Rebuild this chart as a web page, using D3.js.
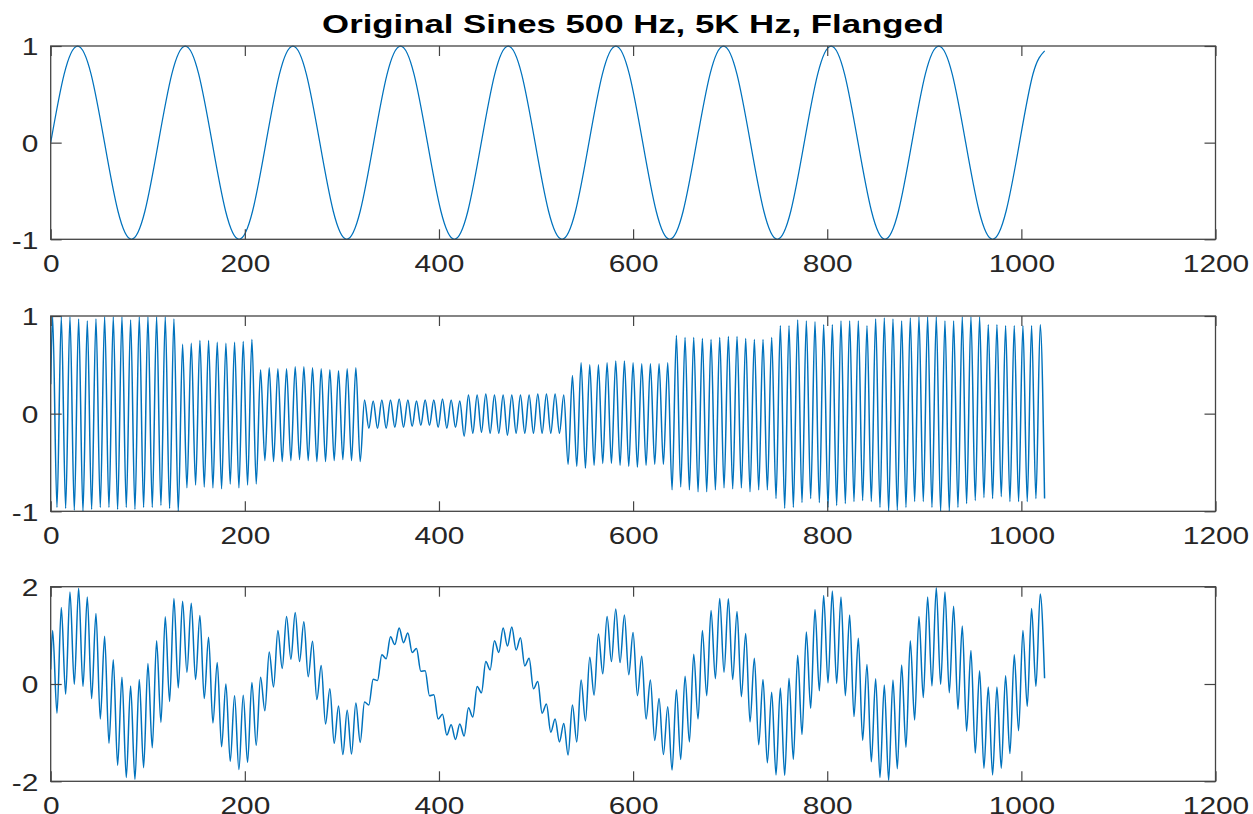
<!DOCTYPE html>
<html><head><meta charset="utf-8">
<script src="https://cdn.jsdelivr.net/npm/d3@7/dist/d3.min.js"></script>
<style>body{margin:0;background:#fff}svg{display:block}</style>
</head><body>
<svg id="c" width="1253" height="814"></svg>
<script>
// ---------- data ----------
const titleText = "Original Sines 500 Hz, 5K Hz, Flanged";
const xTicks = [0, 200, 400, 600, 800, 1000, 1200];
const yTicksSine = [-1, 0, 1];
const yTicksFlanged = [-1, 0, 1];
const yTicksMix = [-2, 0, 2];

// 500 Hz sine: value every 1/8 period (13.86 samples), plus last sample
const sineStep = 13.8625;
const sineValues = [0,0.71,1,0.71,0,-0.71,-1,-0.71, 0,0.71,1,0.71,0,-0.71,-1,-0.71,
  0,0.71,1,0.71,0,-0.71,-1,-0.71, 0,0.71,1,0.71,0,-0.71,-1,-0.71,
  0,0.71,1,0.71,0,-0.71,-1,-0.71, 0,0.71,1,0.71,0,-0.71,-1,-0.71,
  0,0.71,1,0.71,0,-0.71,-1,-0.71, 0,0.71,1,0.71,0,-0.71,-1,-0.71,
  0,0.71,1,0.71,0,-0.71,-1,-0.71, 0,0.71];
const sineLast = [1024, 0.95];

// high-frequency cycles: first top at sample 2, one cycle every 8.925 samples
const hfFirstTop = 2;
const hfCycle = 8.925;

// panel 2: per-cycle maxima / minima
const flangedFirst = 0.3;
const flangedTops = [0.99,0.99,0.99,0.97,0.95,0.97,0.99,0.99,0.99,0.96,0.99,0.99,0.99,0.99,0.97,
  0.71,0.72,0.75,0.75,0.73,0.72,0.73,0.74,0.76,
  0.45,0.47,0.46,0.46,0.48,0.48,0.47,0.46,0.45,0.44,0.46,0.47,
  0.14,0.13,0.14,0.14,0.15,0.14,0.13,0.14,0.14,0.15,0.14,0.13,
  0.19,0.19,0.20,0.19,0.19,0.19,0.19,0.19,0.20,0.20,0.20,0.19,
  0.39,0.52,0.50,0.50,0.52,0.54,0.54,0.52,0.51,0.51,0.51,0.52,
  0.80,0.78,0.78,0.77,0.76,0.78,0.79,0.79,0.77,0.76,0.76,0.78,
  0.90,0.90,0.96,0.95,0.94,0.91,0.91,0.95,0.95,0.95,0.90,0.97,0.98,0.97,0.95,0.98,
  0.99,0.99,0.99,0.95,0.95,0.99,0.99,0.99,0.91,0.91,0.90,0.90,0.90,0.90,0.91];
const flangedBottoms = [-0.96,-0.97,-0.99,-1.00,-0.98,-0.96,-0.96,-0.98,-0.96,-0.98,-0.96,-0.96,-0.94,-0.97,-1.00,
  -0.76,-0.73,-0.75,-0.76,-0.77,-0.72,-0.76,-0.73,-0.72,
  -0.48,-0.49,-0.49,-0.48,-0.47,-0.48,-0.49,-0.49,-0.48,-0.47,-0.48,-0.49,
  -0.15,-0.15,-0.15,-0.14,-0.14,-0.13,-0.12,-0.12,-0.14,-0.15,-0.14,
  -0.23,
  -0.20,-0.19,-0.20,-0.20,-0.22,-0.20,-0.20,-0.20,-0.20,-0.20,-0.20,
  -0.52,-0.54,-0.56,-0.53,-0.51,-0.51,-0.53,-0.54,-0.55,-0.53,-0.52,-0.52,
  -0.78,-0.75,-0.78,-0.80,-0.80,-0.78,-0.76,-0.77,-0.76,-0.80,-0.78,-0.78,
  -0.87,-0.97,-0.96,-0.91,-0.87,-0.91,-0.96,-0.94,-0.92,-0.90,-0.89,-0.90,-0.96,-1.00,-0.99,-0.96,
  -0.90,-0.90,-0.96,-1.00,-1.00,-0.96,-0.92,-0.89,-0.86,-0.87,-0.85,-0.90,-0.90,-0.90,-0.87,-0.87];

// panel 3: per-cycle maxima / minima
const mixFirst = 0.3;
const mixTops = [1.10,1.57,1.89,1.97,1.79,1.45,0.98,0.50,0.14,-0.04,0.09,0.42,0.89,1.38,1.76,
  1.70,1.66,1.41,0.96,0.44,0.00,-0.24,-0.23,0.03,
  0.14,0.66,1.10,1.39,1.47,1.28,0.88,0.38,-0.10,-0.45,-0.54,-0.39,
  -0.37,0.10,0.60,0.97,1.15,1.05,0.73,0.27,-0.22,-0.62,-0.84,-0.82,
  -0.49,-0.05,0.46,0.89,1.15,1.17,0.95,0.53,0.05,-0.41,-0.72,-0.81,
  -0.43,0.08,0.55,1.03,1.39,1.54,1.42,1.06,0.57,0.08,-0.30,-0.47,
  -0.12,0.16,0.61,1.10,1.51,1.76,1.75,1.49,1.04,0.53,0.09,-0.17,
  -0.08,0.12,0.59,1.07,1.53,1.82,1.91,1.79,1.42,0.94,0.40,0.11,-0.02,0.08,0.39,0.89,
  1.39,1.79,1.98,1.89,1.60,1.19,0.69,0.27,-0.06,-0.06,0.17,0.60,1.10,1.55,1.85];
const mixBottoms = [-0.60,-0.21,-0.01,-0.05,-0.30,-0.72,-1.22,-1.67,-1.92,-1.96,-1.72,-1.31,-0.79,-0.36,-0.08,
  0.24,0.09,-0.30,-0.80,-1.29,-1.59,-1.76,-1.61,-1.26,
  -0.55,-0.06,0.32,0.51,0.46,0.15,-0.32,-0.82,-1.22,-1.45,-1.44,-1.20,
  -0.43,0.07,0.52,0.81,0.85,0.65,0.26,-0.24,-0.72,-1.05,-1.14,
  -1.07,
  -0.68,-0.18,0.29,0.65,0.78,0.70,0.37,-0.10,-0.60,-0.99,-1.19,
  -1.46,-1.19,-0.76,-0.23,0.21,0.46,0.44,0.19,-0.24,-0.72,-1.16,-1.45,
  -1.77,-1.55,-1.19,-0.72,-0.24,0.11,0.24,0.09,-0.26,-0.78,-1.25,-1.62,
  -1.87,-1.88,-1.55,-1.04,-0.50,-0.14,0.02,0.01,-0.24,-0.67,-1.16,-1.60,-1.92,-1.98,-1.74,-1.30,
  -0.74,-0.28,-0.04,-0.01,-0.18,-0.52,-0.97,-1.42,-1.73,-1.87,-1.73,-1.43,-0.96,-0.46,-0.05,0.12];

// ---------- build point lists ----------
const sineData = sineValues.map((v, k) => [k * sineStep, v]).concat([sineLast]);
function hfSeries(first, tops, bottoms) {
  const pts = [[0, first]];
  tops.forEach((t, i) => {
    const xs = hfFirstTop + i * hfCycle;
    pts.push([xs, t]);
    pts.push([xs + hfCycle / 2, bottoms[i]]);
  });
  return pts;
}
const flangedData = hfSeries(flangedFirst, flangedTops, flangedBottoms);
const mixData = hfSeries(mixFirst, mixTops, mixBottoms);

// ---------- drawing ----------
const svg = d3.select("#c");
const left = 50.7, right = 1215.5;
const axisColor = "#444";
const textColor = "#262626";
const lineColor = "#0072BD";
const fontFam = "'Liberation Sans', Arial, Helvetica, sans-serif";
const sx = 1.22;

const x = d3.scaleLinear().domain([0, 1200]).range([left, right]);

const panels = [
  {top: 46, bottom: 239.3, domain: [-1, 1], ticks: yTicksSine, data: sineData, curve: d3.curveNatural, sw: 1.25},
  {top: 316, bottom: 511.3, domain: [-1, 1], ticks: yTicksFlanged, data: flangedData, curve: d3.curveMonotoneX, sw: 1.5},
  {top: 586.7, bottom: 781.3, domain: [-2, 2], ticks: yTicksMix, data: mixData, curve: d3.curveMonotoneX, sw: 1.5}
];

panels.forEach((p, idx) => {
  const y = d3.scaleLinear().domain(p.domain).range([p.bottom, p.top]);
  const clipId = "clip" + idx;
  svg.append("clipPath").attr("id", clipId).append("rect")
    .attr("x", left).attr("y", p.top - 1).attr("width", right - left).attr("height", p.bottom - p.top + 2);

  svg.append("path")
    .datum(p.data)
    .attr("clip-path", `url(#${clipId})`)
    .attr("fill", "none")
    .attr("stroke", lineColor)
    .attr("stroke-width", p.sw)
    .attr("stroke-linejoin", "round")
    .attr("d", d3.line().x(d => x(d[0])).y(d => y(d[1])).curve(p.curve));

  const gb = svg.append("g").attr("transform", `translate(0,${p.bottom})`)
    .call(d3.axisBottom(x).tickValues(xTicks).tickSize(-10).tickSizeOuter(0).tickFormat(d => String(d)));
  gb.select(".domain").remove();
  gb.attr("font-size", null).attr("font-family", null);
  gb.selectAll(".tick line").attr("stroke", axisColor).attr("stroke-width", 1.2);
  gb.selectAll(".tick text")
    .attr("y", 33).attr("dy", null)
    .attr("fill", textColor)
    .attr("font-family", fontFam).attr("font-size", 24.5)
    .attr("transform", `scale(${sx},1)`);

  const gt = svg.append("g").attr("transform", `translate(0,${p.top})`)
    .call(d3.axisTop(x).tickValues(xTicks).tickSize(-10).tickSizeOuter(0).tickFormat(""));
  gt.select(".domain").remove();
  gt.selectAll(".tick line").attr("stroke", axisColor).attr("stroke-width", 1.2);

  const gl = svg.append("g").attr("transform", `translate(${left},0)`)
    .call(d3.axisLeft(y).tickValues(p.ticks).tickSize(-11).tickSizeOuter(0).tickFormat(d => String(d)));
  gl.select(".domain").remove();
  gl.attr("font-size", null).attr("font-family", null);
  gl.selectAll(".tick line").attr("stroke", axisColor).attr("stroke-width", 1.2);
  gl.selectAll(".tick text")
    .attr("x", -12.3 / sx).attr("dy", "0.36em")
    .attr("text-anchor", "end")
    .attr("fill", textColor)
    .attr("font-family", fontFam).attr("font-size", 24.5)
    .attr("transform", `scale(${sx},1)`);

  const gr = svg.append("g").attr("transform", `translate(${right},0)`)
    .call(d3.axisRight(y).tickValues(p.ticks).tickSize(-11).tickSizeOuter(0).tickFormat(""));
  gr.select(".domain").remove();
  gr.selectAll(".tick line").attr("stroke", axisColor).attr("stroke-width", 1.2);

  svg.append("rect")
    .attr("x", left).attr("y", p.top)
    .attr("width", right - left).attr("height", p.bottom - p.top)
    .attr("fill", "none").attr("stroke", axisColor).attr("stroke-width", 1.3);
});

svg.append("text")
  .attr("x", (left + right) / 2).attr("y", 33)
  .attr("text-anchor", "middle")
  .attr("font-family", fontFam).attr("font-weight", "bold").attr("font-size", 25)
  .attr("fill", "#000")
  .attr("textLength", 622).attr("lengthAdjust", "spacingAndGlyphs")
  .text(titleText);
</script>
</body></html>
